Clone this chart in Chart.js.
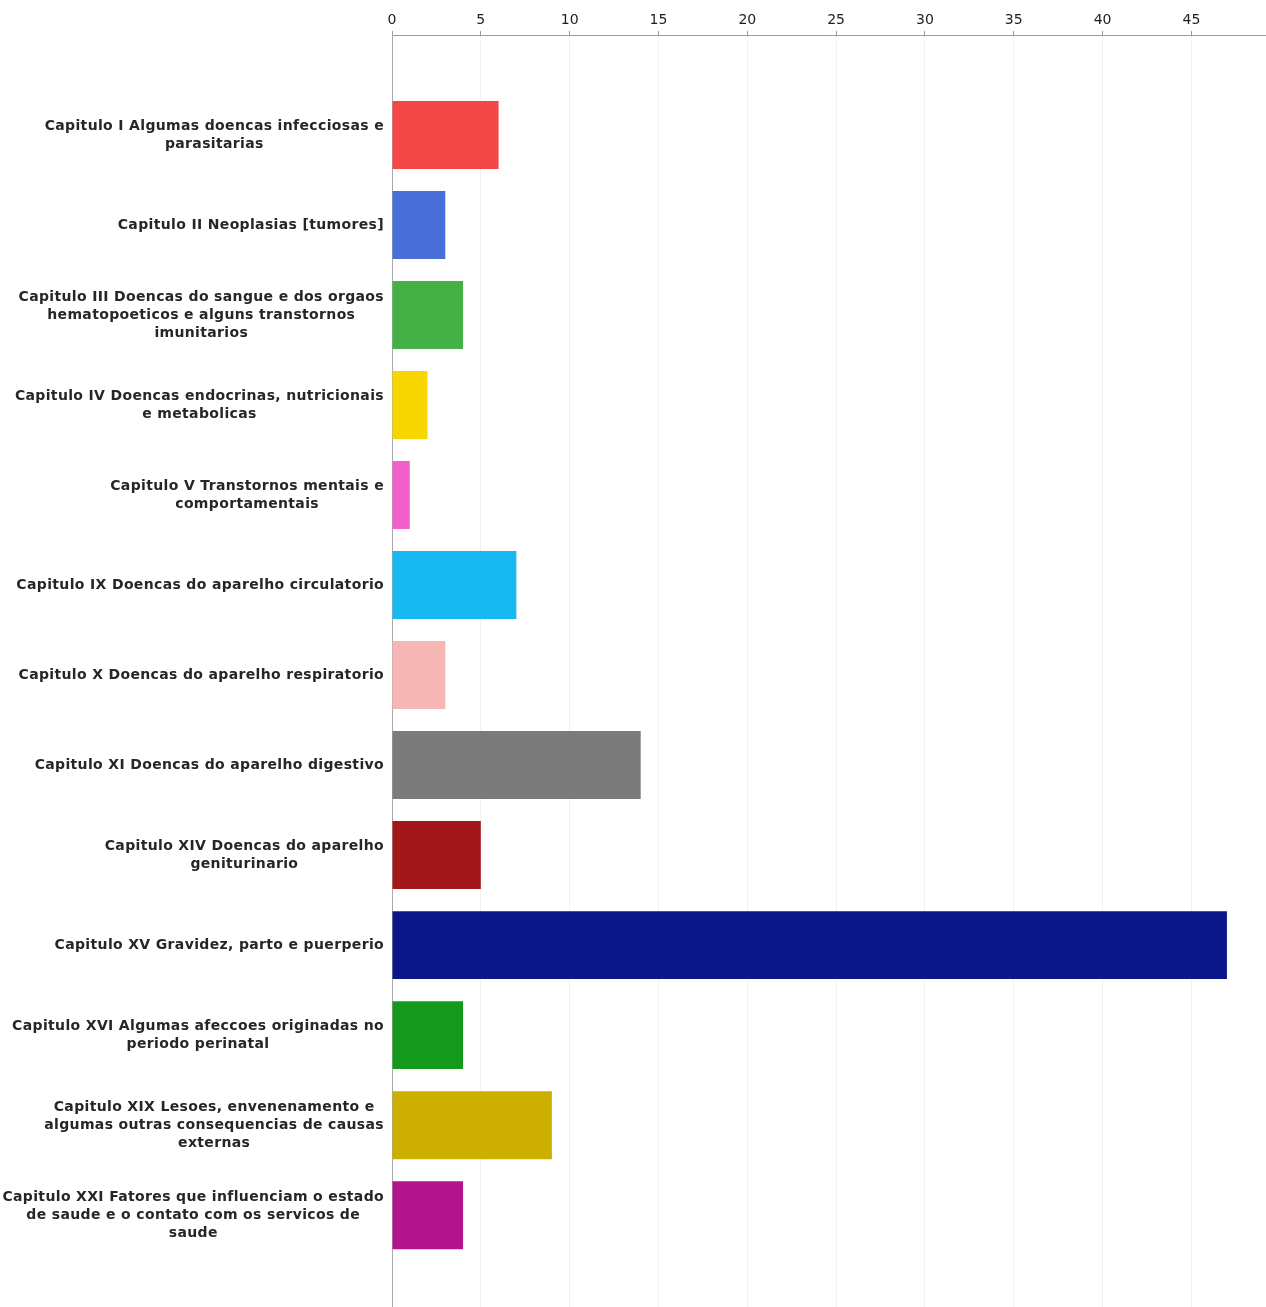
<!DOCTYPE html>
<html>
<head>
<meta charset="utf-8">
<script src="https://cdn.jsdelivr.net/npm/chart.js@4"></script>
<style>
    body { margin: 0; background: #fff; }
    #caixa { width: 1266px; height: 1307px; }
</style>
</head>
<body>
<div id="caixa"><canvas id="grafico"></canvas></div>
<script>
const $ = id => document.getElementById(id);

// cada rotulo ja quebrado em linhas como no original
const capitulos = [
    ["Capitulo I Algumas doencas infecciosas e", "parasitarias"],
    ["Capitulo II Neoplasias [tumores]"],
    ["Capitulo III Doencas do sangue e dos orgaos", "hematopoeticos e alguns transtornos", "imunitarios"],
    ["Capitulo IV Doencas endocrinas, nutricionais", "e metabolicas"],
    ["Capitulo V Transtornos mentais e", "comportamentais"],
    ["Capitulo IX Doencas do aparelho circulatorio"],
    ["Capitulo X Doencas do aparelho respiratorio"],
    ["Capitulo XI Doencas do aparelho digestivo"],
    ["Capitulo XIV Doencas do aparelho", "geniturinario"],
    ["Capitulo XV Gravidez, parto e puerperio"],
    ["Capitulo XVI Algumas afeccoes originadas no", "periodo perinatal"],
    ["Capitulo XIX Lesoes, envenenamento e", "algumas outras consequencias de causas", "externas"],
    ["Capitulo XXI Fatores que influenciam o estado", "de saude e o contato com os servicos de", "saude"]
];

const casos = [6, 3, 4, 2, 1, 7, 3, 14, 5, 47, 4, 9, 4];

const cores = [
    "#f44848", "#4a6ed8", "#45b045", "#f8d700", "#f060c8", "#18b8f0", "#f6b6b4",
    "#7b7b7b", "#a3161a", "#0b1788", "#14991c", "#ccaf00", "#b3148c"
];

const ticksX = [0, 5, 10, 15, 20, 25, 30, 35, 40, 45];

const fonte = 'bold 14px "DejaVu Sans"';

// rotulos com linhas centradas entre si e bloco encostado no eixo
const rotulos = {
    id: "rotulos",
    afterDraw(chart) {
        const { ctx } = chart;
        const y = chart.scales.y;
        ctx.save();
        ctx.font = fonte;
        ctx.letterSpacing = "0.35px";
        ctx.fillStyle = "#262626";
        ctx.textAlign = "center";
        ctx.textBaseline = "middle";
        capitulos.forEach((linhas, i) => {
            const w = Math.max(...linhas.map(l => ctx.measureText(l).width));
            const cx = y.right - 8 - w / 2;
            const cy = y.getPixelForValue(i);
            linhas.forEach((l, j) => {
                ctx.fillText(l, cx, cy + (j - (linhas.length - 1) / 2) * 18);
            });
        });
        ctx.restore();
    }
};

new Chart($("grafico"), {
    type: "bar",
    data: {
        datasets: [{
            data: casos.map((v, i) => ({ x: v, y: i })),
            backgroundColor: cores,
            categoryPercentage: 1,
            barPercentage: 0.755
        }]
    },
    options: {
        indexAxis: "y",
        responsive: true,
        maintainAspectRatio: false,
        animation: false,
        layout: { padding: 0 },
        plugins: {
            legend: { display: false },
            tooltip: { enabled: false }
        },
        scales: {
            x: {
                type: "linear",
                position: "top",
                min: 0,
                max: 49.2,
                afterBuildTicks: s => { s.ticks = ticksX.map(value => ({ value })); },
                afterFit: s => { s.height = 35; },
                ticks: {
                    color: "#1e1e1e",
                    font: { family: "DejaVu Sans", size: 14 },
                    padding: 2
                },
                grid: {
                    color: "#f1f1f1",
                    tickColor: "#999",
                    tickLength: 4
                },
                border: { color: "#999" }
            },
            y: {
                type: "linear",
                reverse: true,
                offset: false,
                min: -1.11,
                max: 13.02,
                afterFit: s => { s.width = 392; },
                ticks: { display: false },
                grid: { display: false, offset: false },
                border: { color: "#aaa" }
            }
        }
    },
    plugins: [rotulos]
});
</script>
</body>
</html>
